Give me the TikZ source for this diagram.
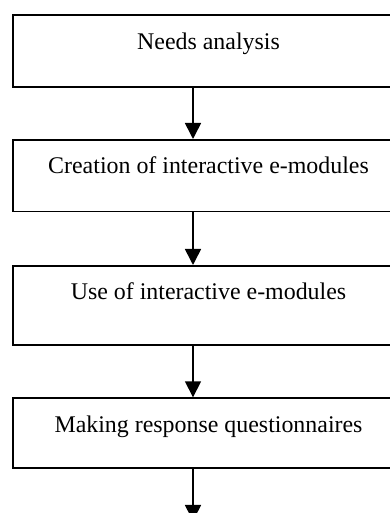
\documentclass[tikz,border=0pt]{standalone}
\usepackage{fontspec}
\setmainfont{Liberation Serif}
\usetikzlibrary{arrows.meta}

\begin{document}
\begin{tikzpicture}[x=1pt, y=1pt, line width=1.6pt,
	main/.style = {draw, rectangle, minimum width=391pt, inner sep=0pt, anchor=north, text height=34pt, font=\fontsize{23.9}{28}\selectfont},
	arr/.style = {-{Triangle[length=16pt, width=16pt]}}]

		\useasboundingbox (0,0) rectangle (390,513);
		\clip (0,0) rectangle (390,513);

		\node[main, text depth=37.7pt] (needs) at (208.5,498.7) {Needs analysis};
		\node[main, text depth=37.7pt] (create) at (208.5,374) {Creation of interactive e-modules};
		\node[main, text depth=45.3pt] (use) at (208.5,248) {Use of interactive e-modules};
		\node[main, text depth=36pt] (quest) at (208.5,115.7) {Making response questionnaires};
		\coordinate (ax) at (193,0);
		\coordinate (out) at (193,-8);

		\draw[arr] (needs.south -| ax) -- (create.north -| ax);
		\draw[arr] (create.south -| ax) -- (use.north -| ax);
		\draw[arr] (use.south -| ax) -- (quest.north -| ax);
		\draw[arr] (quest.south -| ax) -- (out);
	\end{tikzpicture}
\end{document}
